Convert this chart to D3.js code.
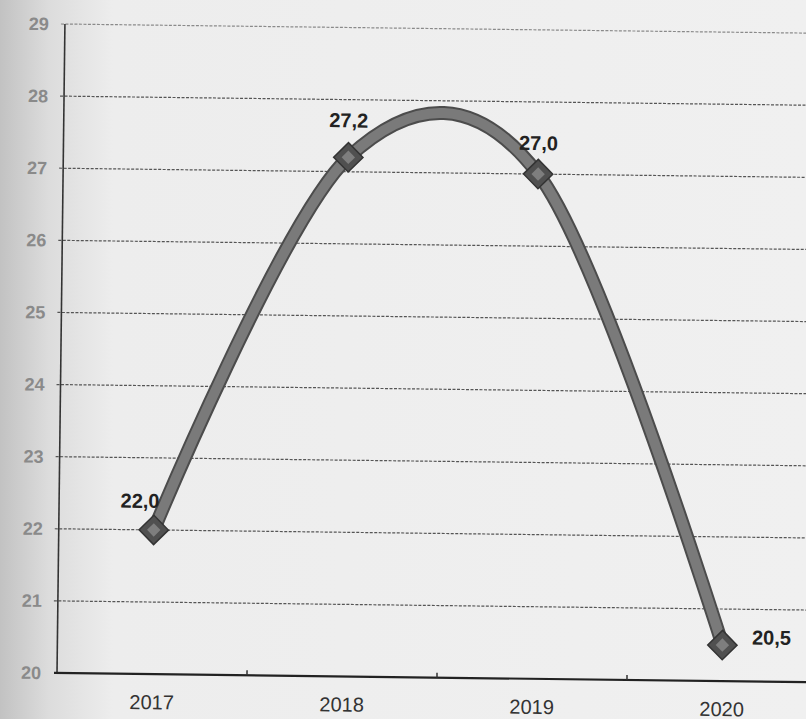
<!DOCTYPE html>
<html>
<head>
<meta charset="utf-8">
<script src="https://cdn.jsdelivr.net/npm/d3@7"></script>
<style>
	body { margin: 0; background: #ececec; }
	svg { display: block; }
</style>
</head>
<body>
<div id="chart"></div>
<script>
var years = ["2017", "2018", "2019", "2020"];
var values = [22.0, 27.2, 27.0, 20.5];
var labels = ["22,0", "27,2", "27,0", "20,5"];
var yTicks = [20, 21, 22, 23, 24, 25, 26, 27, 28, 29];

var width = 806, height = 719;

var svg = d3.select("#chart").append("svg")
	.attr("width", width)
	.attr("height", height);

// scanned page look: grey shadow on the left edge
var defs = svg.append("defs");
var grad = defs.append("linearGradient").attr("id", "edge")
	.attr("x1", "0").attr("x2", "1").attr("y1", "0").attr("y2", "0");
grad.append("stop").attr("offset", "0").attr("stop-color", "#c2c2c2");
grad.append("stop").attr("offset", "0.06").attr("stop-color", "#dcdcdc");
grad.append("stop").attr("offset", "0.14").attr("stop-color", "#ededed");
grad.append("stop").attr("offset", "1").attr("stop-color", "#f0f0f0");
svg.append("rect").attr("width", width).attr("height", height).attr("fill", "url(#edge)");

var x0 = 57, yBase = 673;
// whole plot is slightly skewed on the scan
var g = svg.append("g").attr("transform", "rotate(0.7," + x0 + "," + yBase + ")");

var xScale = d3.scaleBand()
	.domain(years)
	.range([x0, x0 + 760]);
var yScale = d3.scaleLinear()
	.domain([20, 29])
	.range([yBase, 24]);

// gridlines
g.selectAll(".grid")
	.data(yTicks.filter(function(d) { return d > 20; }))
	.enter().append("line")
	.attr("x1", x0 - 4)
	.attr("x2", width + 20)
	.attr("y1", function(d) { return yScale(d); })
	.attr("y2", function(d) { return yScale(d); })
	.attr("stroke", function(d) { return d == 29 ? "#8a8a8a" : "#555"; })
	.attr("stroke-width", 1.2)
	.attr("stroke-dasharray", "3,1.5");

// y tick labels
g.selectAll(".ylab")
	.data(yTicks)
	.enter().append("text")
	.attr("x", x0 - 16)
	.attr("y", function(d) { return yScale(d); })
	.attr("dy", "0.35em")
	.attr("text-anchor", "end")
	.attr("font-family", "Liberation Sans, Arial, sans-serif")
	.attr("font-size", 18)
	.attr("font-weight", "bold")
	.attr("fill", "#8a8a8a")
	.text(function(d) { return d; });

// axes
g.append("line")
	.attr("x1", x0).attr("x2", x0)
	.attr("y1", yScale(29)).attr("y2", yBase)
	.attr("stroke", "#333").attr("stroke-width", 1.6);
g.append("line")
	.attr("x1", x0 - 3).attr("x2", width + 20)
	.attr("y1", yBase).attr("y2", yBase)
	.attr("stroke", "#222").attr("stroke-width", 2.2);

// category boundary ticks
g.selectAll(".xtick")
	.data(years.slice(1))
	.enter().append("line")
	.attr("x1", function(d) { return xScale(d); })
	.attr("x2", function(d) { return xScale(d); })
	.attr("y1", yBase - 5).attr("y2", yBase)
	.attr("stroke", "#333").attr("stroke-width", 1.5);

// x labels
g.selectAll(".xlab")
	.data(years)
	.enter().append("text")
	.attr("x", function(d) { return xScale(d) + xScale.bandwidth() / 2; })
	.attr("y", yBase + 35)
	.attr("text-anchor", "middle")
	.attr("font-family", "Liberation Sans, Arial, sans-serif")
	.attr("font-size", 20)
	.attr("fill", "#333")
	.text(function(d) { return d; });

var pts = years.map(function(d, i) {
	return [xScale(d) + xScale.bandwidth() / 2, yScale(values[i])];
});

var line = d3.line().curve(d3.curveCardinal.tension(0));

g.append("path")
	.attr("d", line(pts))
	.attr("fill", "none")
	.attr("stroke", "#4c4c4c")
	.attr("stroke-width", 14);
g.append("path")
	.attr("d", line(pts))
	.attr("fill", "none")
	.attr("stroke", "#7a7a7a")
	.attr("stroke-width", 10);

// diamond markers
g.selectAll(".marker")
	.data(pts)
	.enter().append("path")
	.attr("d", d3.symbol().type(d3.symbolSquare).size(430))
	.attr("transform", function(d) { return "translate(" + d[0] + "," + d[1] + ") rotate(45)"; })
	.attr("fill", "#505050")
	.attr("stroke", "#333")
	.attr("stroke-width", 1.5);
g.selectAll(".markerc")
	.data(pts)
	.enter().append("path")
	.attr("d", d3.symbol().type(d3.symbolSquare).size(90))
	.attr("transform", function(d) { return "translate(" + d[0] + "," + d[1] + ") rotate(45)"; })
	.attr("fill", "#7e7e7e");

// value labels
var offs = [[-14, -22], [0, -30], [0, -24], [49, -1]];
g.selectAll(".vlab")
	.data(pts)
	.enter().append("text")
	.attr("x", function(d, i) { return d[0] + offs[i][0]; })
	.attr("y", function(d, i) { return d[1] + offs[i][1]; })
	.attr("text-anchor", "middle")
	.attr("font-family", "Liberation Sans, Arial, sans-serif")
	.attr("font-size", 20)
	.attr("font-weight", "bold")
	.attr("fill", "#222")
	.text(function(d, i) { return labels[i]; });
</script>
</body>
</html>
